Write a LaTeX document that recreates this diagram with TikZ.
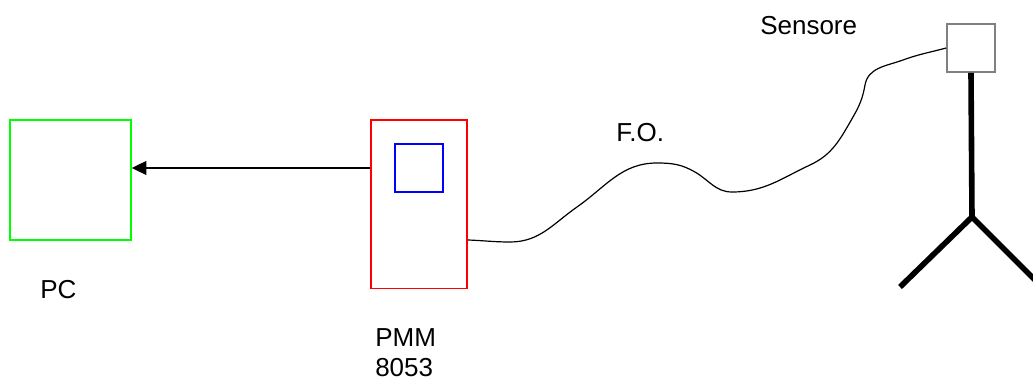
\documentclass[tikz,border=0pt]{standalone}
\usepackage{fontspec}
\setmainfont{Liberation Sans}
\usetikzlibrary{positioning,arrows.meta}

\begin{document}
\begin{tikzpicture}[x=0.75pt, y=-0.75pt,
    every node/.style={font=\fontsize{19.5}{22.5}\selectfont},
    unit/.style={draw, line width=1.2pt, inner sep=0pt},
    caption/.style={inner sep=0pt, anchor=base west},
    cable/.style={line width=0.9pt},
    leg/.style={line width=4.2pt}]

    \useasboundingbox (0,0) rectangle (1033,381);
    \clip (0,0) rectangle (1033,381);

    \node [unit, green, minimum width=90.75pt, minimum height=90pt] (pc) at (70.5,180) {};
    \node [unit, red, minimum width=72pt, minimum height=126.5pt] (pmm) at (419,204.3) {};
    \node [unit, blue, minimum size=36pt] (display) at (419,168) {};
    \node [unit, draw=gray, minimum size=36pt] (sensor) at (971,48) {};

    \node [caption] (pc label) at (40,299) {PC};
    \node [inner sep=0pt, anchor=north west, align=left] (pmm label) at (375,328) {PMM\\8053};
    \node [caption] (fo label) at (616,142) {F.O.};
    \node [caption] (sensor label) at (760,35) {Sensore};

    \coordinate (apex) at (972,217);
    \coordinate (left foot) at (900,287);
    \coordinate (right foot) at (1050,295);
    \coordinate (fo start) at (pmm.east |- 0,240);

    \draw [line width=1.1pt, -{Triangle[length=11pt, width=10.5pt]}] (display -| pmm.west) -- (display -| pc.east);

    \draw [cable] (fo start) to[out=-2,in=180] (510,242)
        to[out=0,in=215] (577,207)
        to[out=35,in=180] (657,163)
        to[out=0,in=150] (695,172)
        to[out=-30,in=180] (732,192)
        to[out=0,in=205] (810,165)
        to[out=25,in=240] (853,117)
        to[out=60,in=260] (865,85)
        to[out=80,in=200] (903,60)
        to[out=20,in=195] (sensor.west);

    \draw [leg] (sensor.south) -- (apex);
    \draw [leg] (left foot) -- (apex) -- (right foot);
\end{tikzpicture}
\end{document}
